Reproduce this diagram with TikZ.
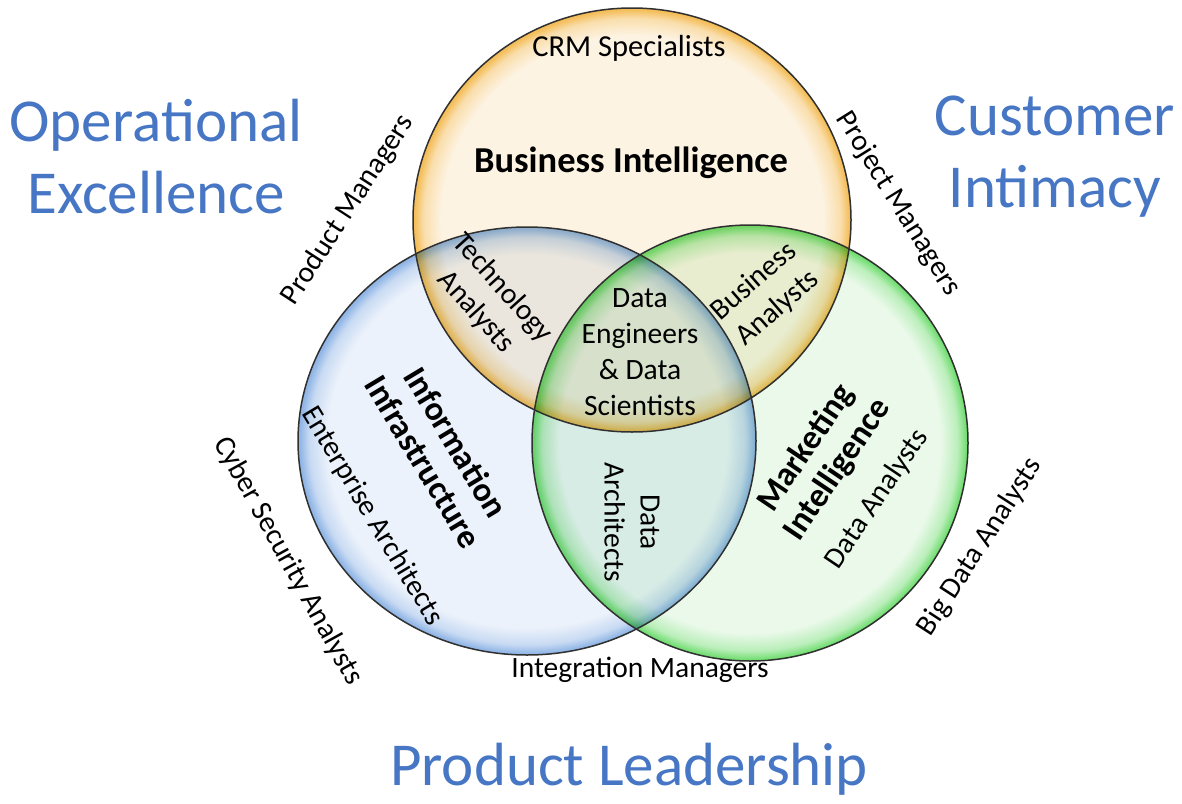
\documentclass[tikz,border=0pt]{standalone}
\usepackage{fontspec}
\setmainfont{Carlito}
\definecolor{ttlblue}{HTML}{4676C4}
\definecolor{edge}{HTML}{303030}
\definecolor{oin}{RGB}{253,243,226}
\definecolor{oout}{RGB}{244,190,90}
\definecolor{bin}{RGB}{236,242,251}
\definecolor{bout}{RGB}{145,182,230}
\definecolor{gin}{RGB}{234,249,234}
\definecolor{gout}{RGB}{115,222,115}
\pgfdeclareradialshading{oglow}{\pgfpoint{0bp}{0bp}}{color(0bp)=(oin); color(21.8bp)=(oin); color(23.8bp)=(oout!40!oin); color(24.8bp)=(oout); color(25bp)=(oout); color(50bp)=(oout)}
\pgfdeclareradialshading{bglow}{\pgfpoint{0bp}{0bp}}{color(0bp)=(bin); color(21.8bp)=(bin); color(23.8bp)=(bout!40!bin); color(24.8bp)=(bout); color(25bp)=(bout); color(50bp)=(bout)}
\pgfdeclareradialshading{gglow}{\pgfpoint{0bp}{0bp}}{color(0bp)=(gin); color(21.8bp)=(gin); color(23.8bp)=(gout!40!gin); color(24.8bp)=(gout); color(25bp)=(gout); color(50bp)=(gout)}
\tikzset{
  lbl/.style={font=\fontsize{29.5}{36}\selectfont, align=center, inner sep=0pt},
  bl/.style={font=\fontsize{34}{38}\selectfont\bfseries, align=center, inner sep=0pt},
  ttl/.style={font=\fontsize{61}{72}\selectfont, text=ttlblue, align=center, inner sep=0pt},
  ring/.style={draw=edge, line width=1.5pt}
}
\begin{document}
\begin{tikzpicture}[x=1pt,y=-1pt]
\path[use as bounding box, fill=white] (0,0) rectangle (1182,803);
% circle centres
\coordinate (bic) at (632,220);
\coordinate (iic) at (527,441);
\coordinate (mic) at (750,443);
% circle fills, multiplied where they overlap
\begin{scope}[blend mode=multiply]
\shade[shading=bglow] (iic) ellipse [x radius=229pt, y radius=214pt];
\shade[shading=gglow] (mic) ellipse [x radius=218pt, y radius=218pt];
\shade[shading=oglow] (bic) ellipse [x radius=219pt, y radius=212pt];
\end{scope}
% borders
\draw[ring] (iic) ellipse [x radius=229pt, y radius=214pt];
\draw[ring] (mic) ellipse [x radius=218pt, y radius=218pt];
\draw[ring] (bic) ellipse [x radius=219pt, y radius=212pt];
% titles
\node[ttl] (opex) at (156,157) {Operational\\Excellence};
\node[ttl] (custint) at (1055,157) {Customer\\Intimacy};
\node[ttl, anchor=base] (prodlead) at (629,785) {Product Leadership};
% labels
\node[lbl, font=\fontsize{30.5}{36}\selectfont] (crm) at (629,48) {CRM Specialists};
\node[bl, font=\fontsize{36.5}{40}\selectfont\bfseries] (bi) at (631,163) {Business Intelligence};
\node[lbl, rotate=-48] (tech) at (489,300) {Technology\\Analysts};
\node[lbl, rotate=41] (busan) at (766,295) {Business\\Analysts};
\node[lbl] (dsci) at (640,352) {Data\\Engineers\\\& Data\\Scientists};
\node[bl, rotate=-59] (info) at (440,452) {Information\\Infrastructure};
\node[lbl, rotate=-59] (ent) at (372,516) {Enterprise Architects};
\node[lbl, rotate=-90] (darch) at (632,522) {Data\\Architects};
\node[bl, rotate=56] (mkt) at (822,459) {Marketing\\Intelligence};
\node[lbl, rotate=56] (dan) at (877,499) {Data Analysts};
\node[lbl, rotate=57] (prodman) at (348,210) {Product Managers};
\node[lbl, rotate=-58] (projman) at (898,204) {Project Managers};
\node[lbl, rotate=-61] (cyber) at (288,561) {Cyber Security Analysts};
\node[lbl, rotate=57] (bigdata) at (980,547) {Big Data Analysts};
\node[lbl] (intman) at (640,670) {Integration Managers};
\end{tikzpicture}
\end{document}
